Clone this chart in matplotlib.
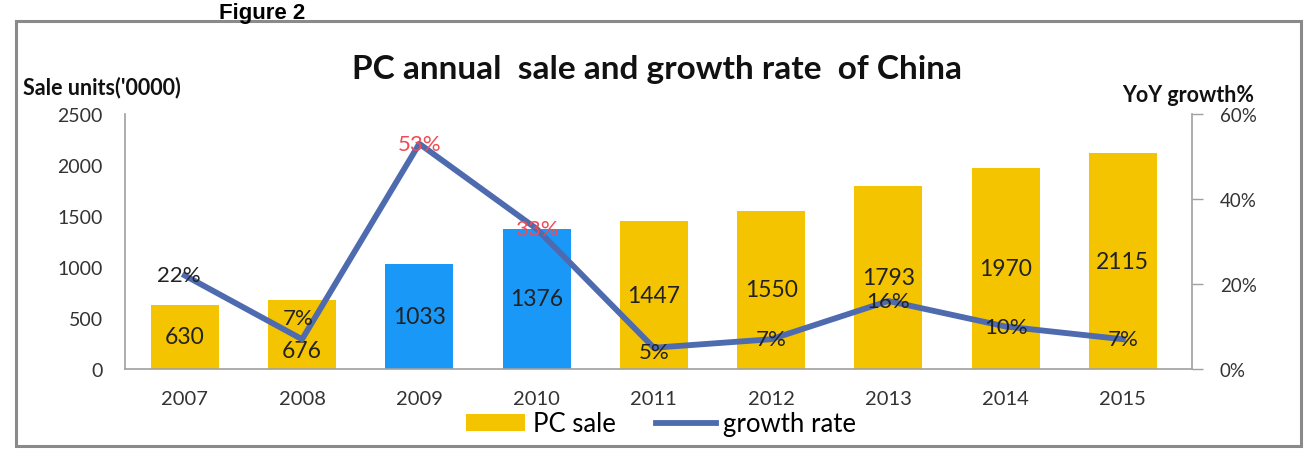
import matplotlib
matplotlib.use('Agg')
import matplotlib.pyplot as plt
from matplotlib.patches import Rectangle
from matplotlib.ticker import FuncFormatter

plt.rcParams['font.family'] = ['Lato', 'DejaVu Sans']

years = ['2007', '2008', '2009', '2010', '2011', '2012', '2013', '2014', '2015']
pc_sale = [630, 676, 1033, 1376, 1447, 1550, 1793, 1970, 2115]
growth = [0.22, 0.07, 0.53, 0.33, 0.05, 0.07, 0.16, 0.10, 0.07]
highlight = [False, False, True, True, False, False, False, False, False]

YELLOW = '#F5C400'
BLUE = '#1A98F7'
LINE = '#4E6BB0'
RED = '#F04A55'

fig = plt.figure(figsize=(13.1, 4.52), dpi=100)
W, H = 1310, 452

# outer frame
fig.patches.append(Rectangle((16 / W, 1 - 447 / H), (1301 - 16) / W, (447 - 22) / H,
                             transform=fig.transFigure, fill=False,
                             edgecolor='#8a8a8a', linewidth=2.2))

ax = fig.add_axes([125 / W, 1 - 370 / H, (1192 - 125) / W, (370 - 115) / H])
ax2 = ax.twinx()

x = list(range(len(years)))
colors = [BLUE if h else YELLOW for h in highlight]
bars = ax.bar(x, pc_sale, width=0.58, color=colors, label='PC sale', zorder=2)
ax.set_xlim(-0.51, 8.59)
ax.set_ylim(0, 2500)
ax.set_yticks(range(0, 2501, 500))
ax.set_xticks(x)
ax.set_xticklabels(years)
ax.tick_params(axis='y', length=0, pad=16, labelsize=14, labelcolor='#333333')
ax.tick_params(axis='x', length=0, pad=15, labelsize=14.5, labelcolor='#333333')

for s in ['top', 'right']:
    ax.spines[s].set_visible(False)
for s in ['left', 'bottom']:
    ax.spines[s].set_color('#a0a0a0')
    ax.spines[s].set_linewidth(1.2)

# bar value labels
for i, v in enumerate(pc_sale):
    y = v / 2
    if i == 1:
        y = v / 2 - 160
    ax.text(i, y, str(v), ha='center', va='center', fontsize=16.5, color='#222222', zorder=5)

line, = ax2.plot(x, growth, color=LINE, linewidth=4.2, label='growth rate', zorder=3)
ax2.set_ylim(0, 0.6)
ax2.set_yticks([0, 0.2, 0.4, 0.6])
ax2.yaxis.set_major_formatter(FuncFormatter(lambda v, p: f'{v * 100:.0f}%'))
ax2.tick_params(axis='y', length=8, width=1, color='#a0a0a0', pad=12,
                labelsize=13.5, labelcolor='#333333')
for s in ['top', 'left', 'bottom']:
    ax2.spines[s].set_visible(False)
ax2.spines['right'].set_color('#a0a0a0')
ax2.spines['right'].set_linewidth(1.2)

# growth labels (dx in category units, dy in growth units)
offsets = [(-0.05, 0.0), (-0.03, 0.05), (0.0, 0.0), (0.0, 0.0), (0.0, -0.01),
           (0.0, 0.0), (0.0, 0.0), (0.0, 0.0), (0.0, 0.0)]
for i, g in enumerate(growth):
    dx, dy = offsets[i]
    c = RED if highlight[i] else '#222222'
    ax2.text(i + dx, g + dy, f'{g * 100:.0f}%', ha='center', va='center',
             fontsize=16, color=c, zorder=6)

fig.text(657 / W, 1 - 70 / H, 'PC annual  sale and growth rate  of China',
         ha='center', va='center', fontsize=24, fontweight='bold', color='#111111')
fig.text(262 / W, 1 - 19 / H, 'Figure 2', ha='center', va='baseline',
         fontsize=16, fontweight='bold', family=['Liberation Sans', 'DejaVu Sans'])
fig.text(23 / W, 1 - 88 / H, "Sale units('0000)", ha='left', va='center',
         fontsize=15.5, fontweight='bold', color='#111111')
fig.text(1254 / W, 1 - 96 / H, 'YoY growth%', ha='right', va='center',
         fontsize=15.5, fontweight='bold', color='#111111')

fig.legend([bars, line], ['PC sale', 'growth rate'], loc='center', ncol=2,
           bbox_to_anchor=(661 / W, 1 - 425 / H), frameon=False, fontsize=18.5,
           handlelength=2.3, handleheight=0.65, columnspacing=1.6, handletextpad=0.3)

fig.savefig('out.png', dpi=100)
